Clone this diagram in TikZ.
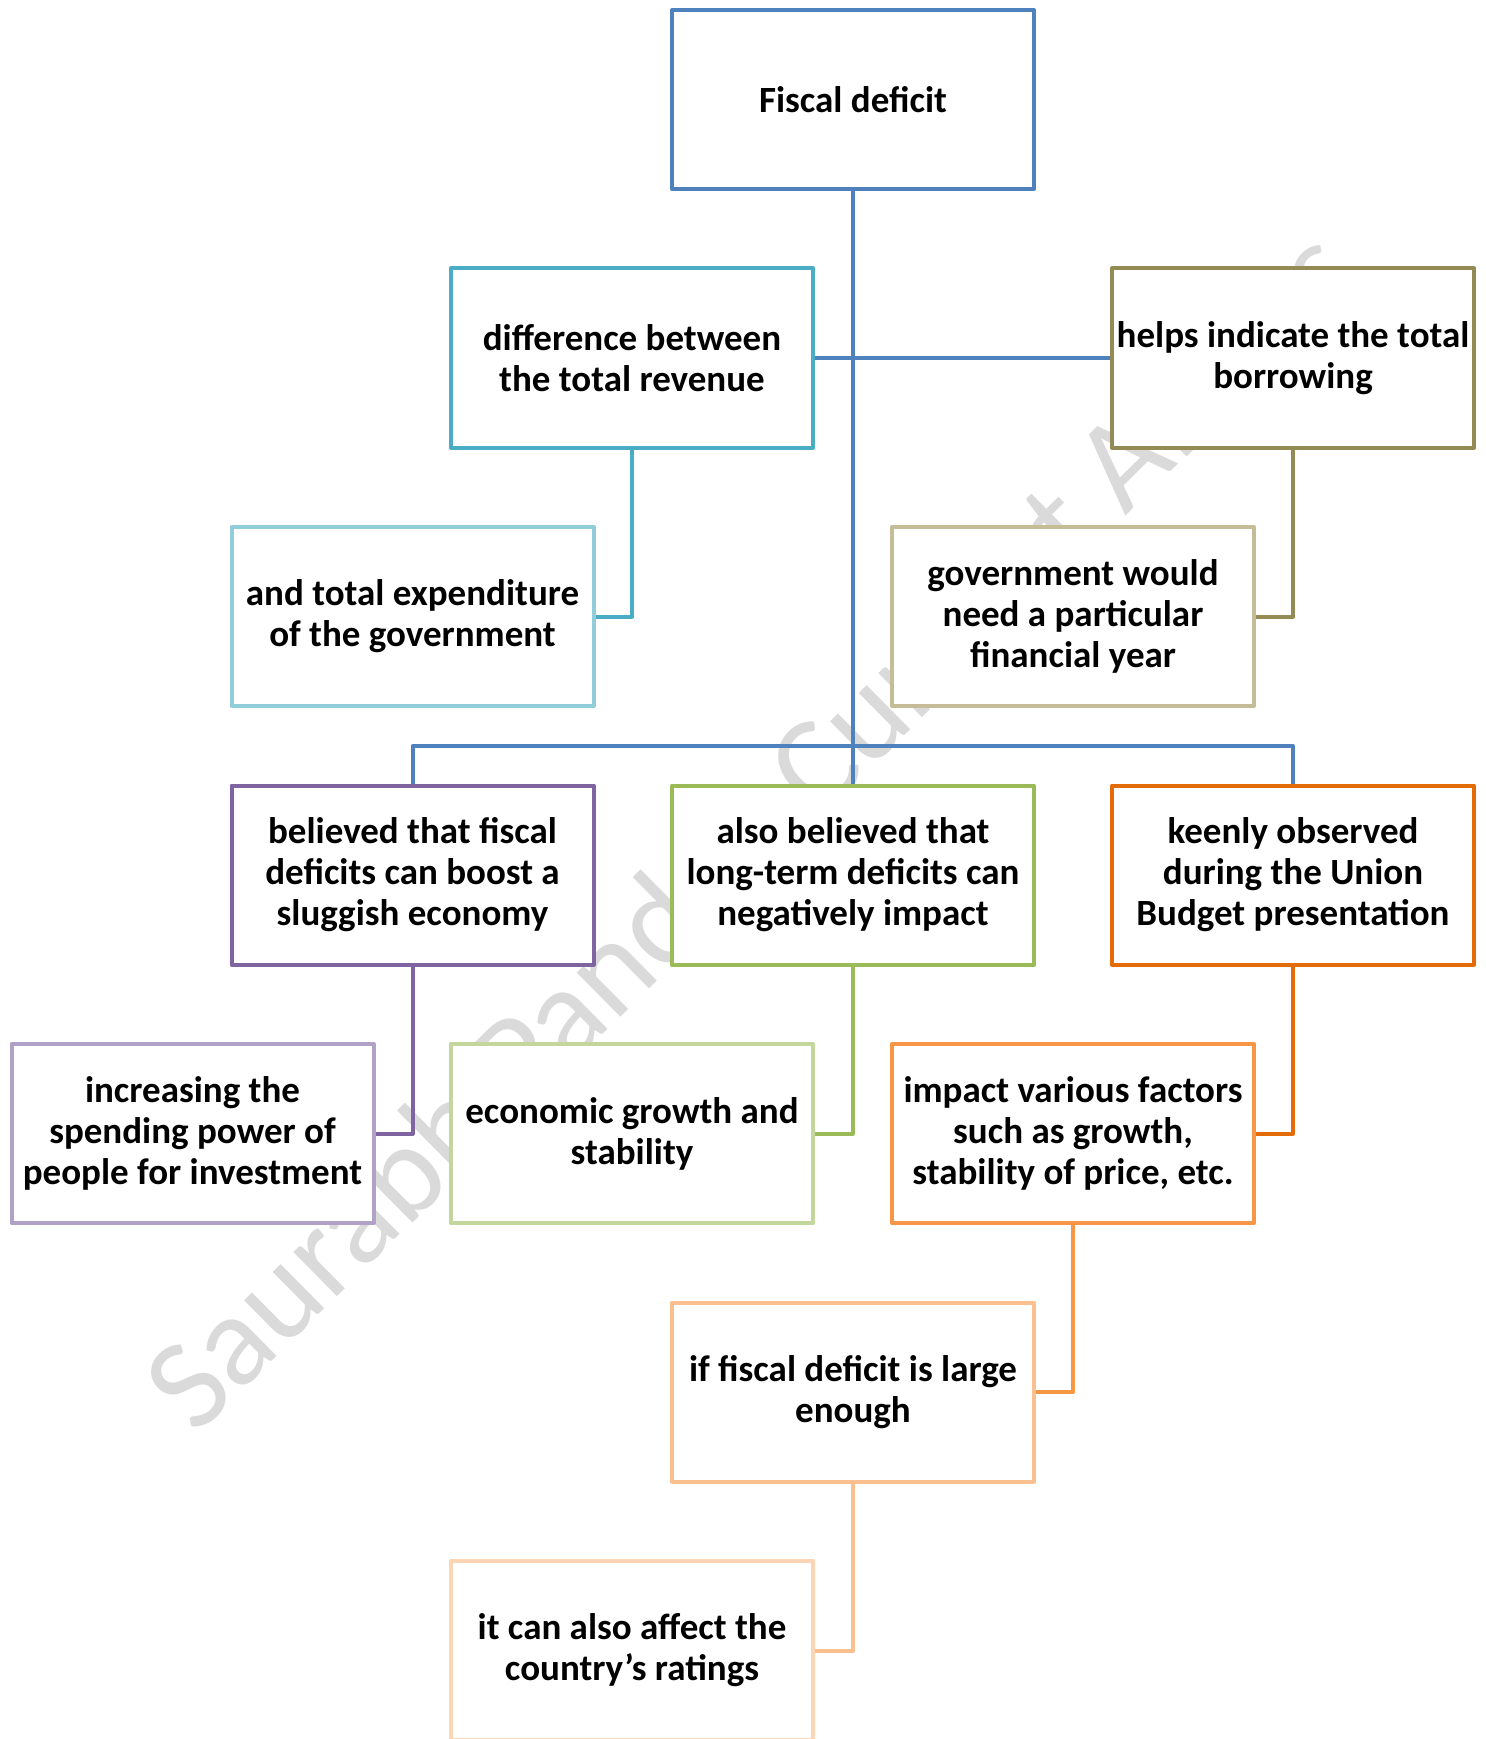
\documentclass[tikz,border=0pt]{standalone}
\usepackage{fontspec}
\setmainfont{Carlito}
\definecolor{cfd}{HTML}{4F81BD}
\definecolor{cdiff}{HTML}{4BACC6}
\definecolor{cexp}{HTML}{92CDDC}
\definecolor{chelps}{HTML}{948A54}
\definecolor{cgov}{HTML}{C4BD97}
\definecolor{cbel}{HTML}{8064A2}
\definecolor{cinc}{HTML}{B2A1C7}
\definecolor{calso}{HTML}{9BBB59}
\definecolor{cecon}{HTML}{C3D69B}
\definecolor{ckeen}{HTML}{E36C09}
\definecolor{cimp}{HTML}{F79646}
\definecolor{ciffd}{HTML}{FAC090}
\definecolor{citcan}{HTML}{FCD5B5}
\definecolor{wm}{HTML}{DADADA}
\begin{document}
\begin{tikzpicture}[x=0.5pt,y=-0.5pt,
  box/.style={rectangle, draw=#1, fill=white, line width=2pt, line join=round,
    minimum width=181pt, minimum height=89.5pt, inner sep=0pt, align=center,
    font=\fontsize{18.5}{20.5}\selectfont\bfseries},
  link/.style={draw=#1, line width=2pt, line join=round}]
\fill[white] (0,0) rectangle (1485,1739);
\useasboundingbox (0,0) rectangle (1485,1739);
% watermark (behind everything)
\node[rotate=44.7, anchor=base west, text=wm, inner sep=0pt,
  font=\fontsize{65}{68}\selectfont] (wmk) at (196,1437) {Saurabh Pandey Current Affairs};
\coordinate (bus) at (853,746);
\node[box=cfd] (fd) at (853,99.5) {Fiscal deficit};
\node[box=cdiff] (diff) at (632,358) {difference between\\the total revenue};
\node[box=chelps] (helps) at (1293,358) {helps indicate the total\\borrowing};
\node[box=cexp] (exp) at (412.5,616.5) {and total expenditure\\of the government};
\node[box=cgov] (gov) at (1073,616.5) {government would\\need a particular\\financial year};
\node[box=cbel] (bel) at (412.5,875) {believed that fiscal\\deficits can boost a\\sluggish economy};
\node[box=calso] (also) at (853,875) {also believed that\\long-term deficits can\\negatively impact};
\node[box=ckeen] (keen) at (1293,875) {keenly observed\\during the Union\\Budget presentation};
\node[box=cinc] (inc) at (192.5,1133.5) {increasing the\\spending power of\\people for investment};
\node[box=cecon] (econ) at (632,1133.5) {economic growth and\\stability};
\node[box=cimp] (imp) at (1073,1133.5) {impact various factors\\such as growth,\\stability of price, etc.};
\node[box=ciffd] (iffd) at (853,1392) {if fiscal deficit is large\\enough};
\node[box=citcan] (itcan) at (632,1650.5) {it can also affect the\\country’s ratings};
\draw[link=cfd] (fd.south) -- (also.north);
\draw[link=cfd] (diff.east) -- (helps.west);
\draw[link=cfd] (bel.north) |- (bus) -| (keen.north);
\draw[link=cdiff] (diff.south) |- (exp.east);
\draw[link=chelps] (helps.south) |- (gov.east);
\draw[link=cbel] (bel.south) |- (inc.east);
\draw[link=calso] (also.south) |- (econ.east);
\draw[link=ckeen] (keen.south) |- (imp.east);
\draw[link=cimp] (imp.south) |- (iffd.east);
\draw[link=ciffd] (iffd.south) |- (itcan.east);
\end{tikzpicture}
\end{document}
